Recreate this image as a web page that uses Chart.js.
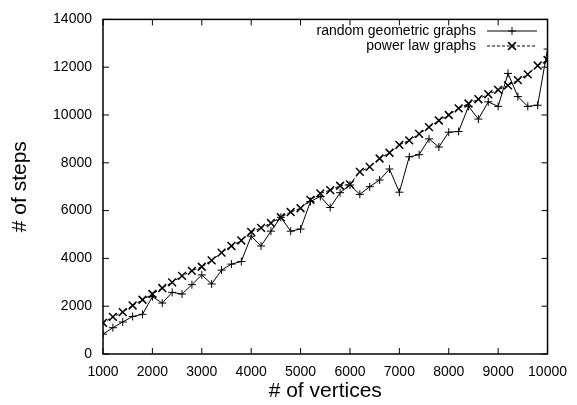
<!DOCTYPE html>
<html>
<head>
<meta charset="utf-8">
<script src="https://cdn.jsdelivr.net/npm/chart.js@4"></script>
<style>
  html, body { margin: 0; padding: 0; background: #fff; }
  #wrap { width: 577px; height: 405px; }
</style>
</head>
<body>
<div id="wrap"><canvas id="stepsChart" width="577" height="405"></canvas></div>
<script>
// number of vertices (x values)
const vertices = [1000, 1200, 1400, 1600, 1800, 2000, 2200, 2400, 2600, 2800,
    3000, 3200, 3400, 3600, 3800, 4000, 4200, 4400, 4600, 4800,
    5000, 5200, 5400, 5600, 5800, 6000, 6200, 6400, 6600, 6800,
    7000, 7200, 7400, 7600, 7800, 8000, 8200, 8400, 8600, 8800,
    9000, 9200, 9400, 9600, 9800, 10000];

// # of steps, random geometric graphs
const geometricSteps = [830, 1100, 1340, 1570, 1660, 2400, 2130, 2580, 2510, 2900,
    3310, 2930, 3510, 3760, 3870, 4930, 4520, 5140, 5720, 5140,
    5230, 6380, 6590, 6130, 6750, 7070, 6680, 7000, 7280, 7740,
    6770, 8250, 8340, 9000, 8660, 9280, 9310, 10360, 9830, 10550,
    10360, 11740, 10770, 10360, 10410, 12760];

// # of steps, power law graphs
const powerLawSteps = [1300, 1550, 1750, 2030, 2270, 2510, 2760, 3000, 3270, 3480,
    3650, 3920, 4240, 4520, 4750, 5110, 5280, 5480, 5720, 5940,
    6100, 6450, 6720, 6860, 7040, 7100, 7620, 7830, 8180, 8420,
    8750, 8940, 9210, 9490, 9770, 10000, 10280, 10480, 10660, 10870,
    11050, 11240, 11460, 11700, 12070, 12300];

const seriesNames = ['random geometric graphs', 'power law graphs'];

const toPoints = (ys) => ys.map((y, i) => ({ x: vertices[i], y: y }));

// gnuplot style frame: box, inward ticks on all four sides, legend inside
const gnuplotFrame = {
    id: 'gnuplotFrame',
    afterDraw(chart) {
        const ctx = chart.ctx;
        const a = chart.chartArea;
        const xs = chart.scales.x;
        const ys = chart.scales.y;
        ctx.save();
        ctx.strokeStyle = '#000';
        ctx.lineWidth = 1.5;
        ctx.strokeRect(a.left, a.top, a.right - a.left, a.bottom - a.top);
        ctx.lineWidth = 1;
        const len = 6;
        xs.ticks.forEach(t => {
            const px = xs.getPixelForValue(t.value);
            ctx.beginPath();
            ctx.moveTo(px, a.bottom); ctx.lineTo(px, a.bottom - len);
            ctx.moveTo(px, a.top); ctx.lineTo(px, a.top + len);
            ctx.stroke();
        });
        ys.ticks.forEach(t => {
            const py = ys.getPixelForValue(t.value);
            ctx.beginPath();
            ctx.moveTo(a.left, py); ctx.lineTo(a.left + len, py);
            ctx.moveTo(a.right, py); ctx.lineTo(a.right - len, py);
            ctx.stroke();
        });

        // legend
        ctx.font = '14px "Liberation Sans", Arial, sans-serif';
        ctx.fillStyle = '#000';
        ctx.textAlign = 'right';
        ctx.textBaseline = 'middle';
        const textRight = 476, lineL = 487, lineR = 537, mid = 512;
        const rows = [31, 46];
        chart.data.datasets.forEach((ds, i) => {
            const y = rows[i];
            ctx.fillText(seriesNames[i], textRight, y);
            ctx.beginPath();
            ctx.setLineDash(ds.borderDash || []);
            ctx.lineWidth = 1;
            ctx.moveTo(lineL, y); ctx.lineTo(lineR, y);
            ctx.stroke();
            ctx.setLineDash([]);
            ctx.lineWidth = ds.pointBorderWidth;
            const r = ds.pointRadius;
            ctx.beginPath();
            if (ds.pointStyle === 'cross') {
                ctx.moveTo(mid - r, y); ctx.lineTo(mid + r, y);
                ctx.moveTo(mid, y - r); ctx.lineTo(mid, y + r);
            } else {
                const d = r * 0.7071;
                ctx.moveTo(mid - d, y - d); ctx.lineTo(mid + d, y + d);
                ctx.moveTo(mid - d, y + d); ctx.lineTo(mid + d, y - d);
            }
            ctx.stroke();
        });
        ctx.restore();
    }
};

const tickFont = { family: '"Liberation Sans", Arial, sans-serif', size: 14 };
const titleFont = { family: '"Liberation Sans", Arial, sans-serif', size: 21 };

const ctx = document.getElementById('stepsChart').getContext('2d');
const stepsChart = new Chart(ctx, {
    type: 'line',
    data: {
        datasets: [{
            label: seriesNames[0],
            data: toPoints(geometricSteps),
            borderColor: '#000',
            borderWidth: 1,
            pointStyle: 'cross',
            pointRadius: 4,
            pointBorderWidth: 1,
            pointBorderColor: '#000',
            tension: 0
        }, {
            label: seriesNames[1],
            data: toPoints(powerLawSteps),
            borderColor: '#000',
            borderWidth: 1,
            borderDash: [3, 2],
            pointStyle: 'crossRot',
            pointRadius: 5.5,
            pointBorderWidth: 1.5,
            pointBorderColor: '#000',
            tension: 0
        }]
    },
    options: {
        responsive: false,
        animation: false,
        layout: { padding: { left: 0, right: 24, top: 16, bottom: 0 } },
        plugins: {
            legend: { display: false },
            tooltip: { enabled: false }
        },
        scales: {
            x: {
                type: 'linear',
                min: 1000,
                max: 10000,
                grid: { display: false, drawTicks: false },
                border: { display: false },
                ticks: {
                    stepSize: 1000,
                    padding: 10,
                    color: '#000',
                    maxRotation: 0,
                    font: tickFont,
                    callback: (v) => String(v)
                },
                title: {
                    display: true,
                    text: '# of vertices',
                    color: '#000',
                    padding: { top: 0, bottom: 1 },
                    font: titleFont
                },
                afterFit(scale) { scale.height = 51; }
            },
            y: {
                min: 0,
                max: 14000,
                grid: { display: false, drawTicks: false },
                border: { display: false },
                ticks: {
                    stepSize: 2000,
                    padding: 11,
                    color: '#000',
                    font: tickFont,
                    callback: (v) => String(v)
                },
                title: {
                    display: true,
                    text: '# of steps',
                    color: '#000',
                    padding: { top: 8, bottom: 0 },
                    font: titleFont
                },
                afterFit(scale) { scale.width = 103; }
            }
        }
    },
    plugins: [gnuplotFrame]
});
</script>
</body>
</html>
